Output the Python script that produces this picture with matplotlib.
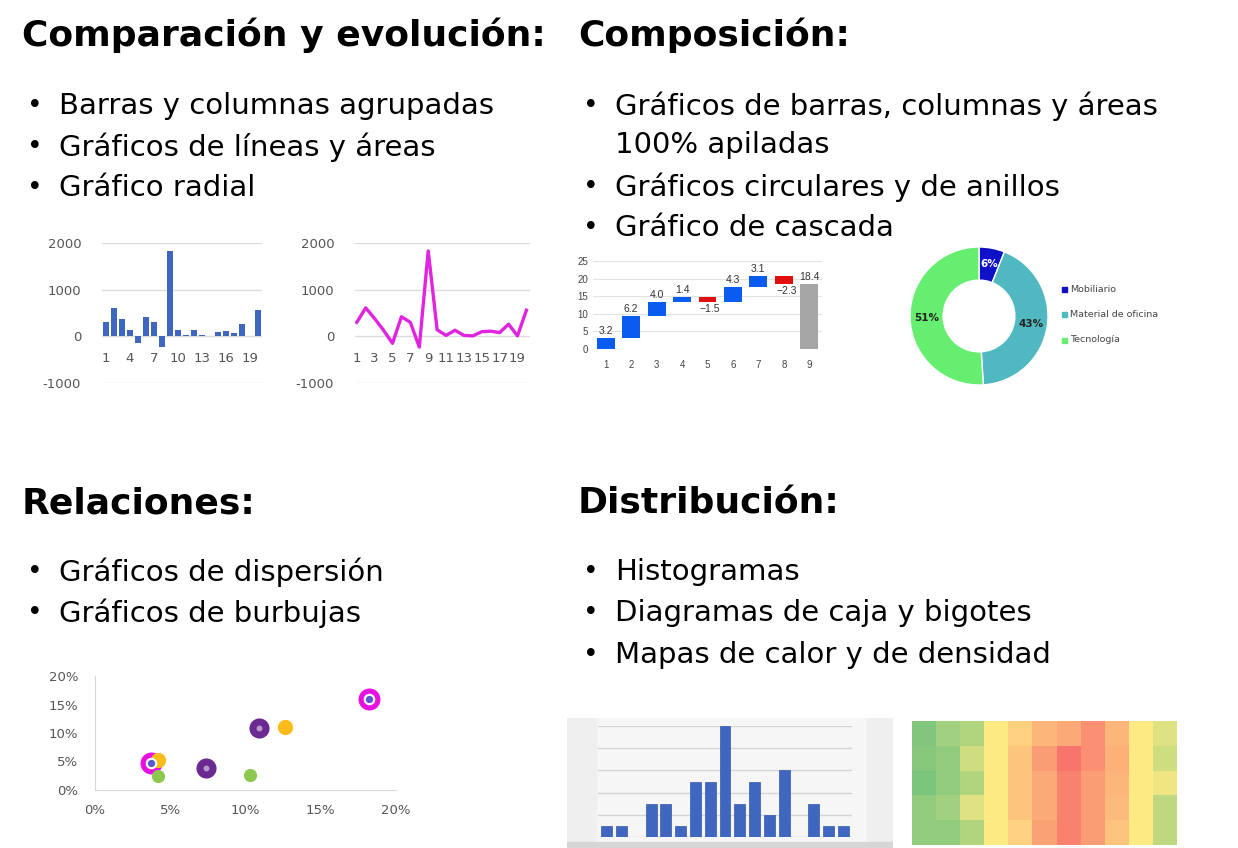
import matplotlib.pyplot as plt
import numpy as np
from matplotlib.colors import LinearSegmentedColormap

plt.rcParams["font.family"] = ["DejaVu Sans"]
plt.rcParams["axes.unicode_minus"] = False

# ---- data ----
months = list(range(1, 21))
sales = [300, 610, 380, 130, -150, 420, 300, -230, 1830, 140,
         20, 130, 20, 10, 100, 110, 80, 260, 10, 560]

wf_steps = [1, 2, 3, 4, 5, 6, 7, 8]
wf_deltas = [3.2, 6.2, 4.0, 1.4, -1.5, 4.3, 3.1, -2.3]
wf_total = 18.4

donut_labels = ["Mobiliario", "Material de oficina", "Tecnología"]
donut_values = [6, 43, 51]
donut_colors = ["#1010c8", "#4fb8c0", "#66ee70"]

bub_x = [3.7, 18.2, 7.4, 10.9, 4.2, 12.6, 4.2, 10.3]
bub_y = [4.7, 16.0, 3.9, 10.8, 5.3, 11.0, 2.5, 2.7]
bub_kind = ["m", "m", "p", "p", "o", "o", "g", "g"]

hist_counts = [1, 1, 0, 3, 3, 1, 5, 5, 10, 3, 5, 2, 6, 0, 3, 1, 1]

heat = [
    [0.10, 0.20, 0.25, 0.50, 0.60, 0.70, 0.75, 0.85, 0.70, 0.50, 0.40],
    [0.12, 0.15, 0.35, 0.50, 0.65, 0.80, 0.95, 0.85, 0.72, 0.50, 0.35],
    [0.08, 0.15, 0.25, 0.50, 0.65, 0.75, 0.90, 0.80, 0.70, 0.50, 0.45],
    [0.15, 0.20, 0.40, 0.50, 0.65, 0.75, 0.90, 0.80, 0.68, 0.50, 0.30],
    [0.15, 0.15, 0.25, 0.50, 0.60, 0.78, 0.90, 0.80, 0.65, 0.50, 0.30],
]

W, H = 1238, 848
fig = plt.figure(figsize=(W / 100, H / 100), dpi=100)


def ax_px(l, t, r, b):
    return fig.add_axes([l / W, 1 - b / H, (r - l) / W, (b - t) / H])


def txt(x, y, s, **kw):
    fig.text(x / W, 1 - y / H, s, va="center", **kw)


# ---- headings and bullets ----
hs = 26
bs = 21
txt(22, 35, "Comparación y evolución:", fontsize=hs, fontweight="bold")
txt(578, 35, "Composición:", fontsize=hs, fontweight="bold")
txt(22, 503, "Relaciones:", fontsize=hs, fontweight="bold")
txt(578, 503, "Distribución:", fontsize=hs, fontweight="bold")

bullets = [
    (24, 106, "Barras y columnas agrupadas"),
    (24, 147, "Gráficos de líneas y áreas"),
    (24, 188, "Gráfico radial"),
    (580, 106, "Gráficos de barras, columnas y áreas"),
    (580, 187, "Gráficos circulares y de anillos"),
    (580, 228, "Gráfico de cascada"),
    (24, 572, "Gráficos de dispersión"),
    (24, 613, "Gráficos de burbujas"),
    (580, 572, "Histogramas"),
    (580, 613, "Diagramas de caja y bigotes"),
    (580, 655, "Mapas de calor y de densidad"),
]
for x, y, s in bullets:
    txt(x + 3, y, "•", fontsize=bs - 2)
    txt(x + 35, y, s, fontsize=bs)
txt(615, 145, "100% apiladas", fontsize=bs)


# ---- column and line charts ----
def small_axes(ax):
    ax.set_ylim(-1000, 2000)
    ax.set_yticks([-1000, 0, 1000, 2000])
    ax.grid(axis="y", color="#dcdcdc", lw=1)
    ax.set_axisbelow(True)
    for s in ["left", "right", "top"]:
        ax.spines[s].set_visible(False)
    ax.spines["bottom"].set_position(("data", 0))
    ax.spines["bottom"].set_visible(False)
    ax.tick_params(length=0, labelsize=9.5, colors="#555555")
    ax.tick_params(axis="y", pad=15)
    ax.tick_params(axis="x", pad=11)


ax1 = ax_px(102, 243, 262, 383)
ax1.bar(months, sales, width=0.8, color="#3f67bf")
ax1.set_xlim(0.5, 20.5)
ax1.set_xticks(range(1, 21, 3))
small_axes(ax1)

ax2 = ax_px(355, 243, 530, 383)
ax2.plot(months, sales, color="#e024e0", lw=2.4)
ax2.set_xlim(0.8, 20.4)
ax2.set_xticks(range(1, 21, 2))
small_axes(ax2)

# ---- waterfall ----
ax3 = ax_px(593, 261, 822, 349)
cum = np.cumsum([0] + wf_deltas)
bottoms = [min(cum[i], cum[i + 1]) for i in range(len(wf_deltas))]
colors = ["#0a5cf0" if d > 0 else "#e01010" for d in wf_deltas]
ax3.bar(wf_steps, [abs(d) for d in wf_deltas], bottom=bottoms,
        width=0.7, color=colors)
ax3.bar([9], [wf_total], width=0.7, color="#a6a6a6")
lab_font = dict(fontsize=7.5, color="#333333",
                family=["Liberation Sans", "DejaVu Sans"])
for i, d in enumerate(wf_deltas):
    if d > 0:
        ax3.text(wf_steps[i], cum[i + 1] + 0.5, f"{d:.1f}", ha="center",
                 va="bottom", **lab_font)
    else:
        ax3.text(wf_steps[i] + 0.1, cum[i + 1] - 0.5, f"\u2212{abs(d):.1f}",
                 ha="center", va="top", **lab_font)
ax3.text(9, wf_total + 0.5, f"{wf_total}", ha="center", va="bottom",
         **lab_font)
ax3.set_xlim(0.5, 9.5)
ax3.set_ylim(0, 25)
ax3.set_yticks(range(0, 26, 5))
ax3.set_xticks(range(1, 10))
ax3.grid(axis="y", color="#e2e2e2", lw=0.8)
ax3.set_axisbelow(True)
for s in ax3.spines.values():
    s.set_visible(False)
ax3.tick_params(length=0, labelsize=7, colors="#444444")
ax3.tick_params(axis="x", pad=8)
for lab in ax3.get_xticklabels() + ax3.get_yticklabels():
    lab.set_family(["Liberation Sans", "DejaVu Sans"])

# ---- donut ----
ax4 = ax_px(910, 247, 1048, 385)
wedges, _ = ax4.pie(donut_values, colors=donut_colors, startangle=90,
                    counterclock=False, radius=1.0,
                    wedgeprops=dict(width=0.48, edgecolor="white", lw=1))
ax4.set_xlim(-1, 1)
ax4.set_ylim(-1, 1)
ax4.set_aspect("equal")
label_colors = ["white", "#222222", "#222222"]
for w, v, c in zip(wedges, donut_values, label_colors):
    ang = np.deg2rad((w.theta1 + w.theta2) / 2)
    r = 0.76
    ax4.text(r * np.cos(ang), r * np.sin(ang), f"{v}%", ha="center",
             va="center", fontsize=7.5, fontweight="bold", color=c)
for i, (lab, c) in enumerate(zip(donut_labels, donut_colors)):
    y = 289 + i * 25.5
    fig.patches.append(plt.Rectangle(((1064 - 2.5) / W, 1 - (y + 2.5) / H),
                                     5 / W, 5 / H, color=c,
                                     transform=fig.transFigure))
    txt(1070, y, lab, fontsize=6.8, color="#444444")

# ---- bubbles ----
ax5 = ax_px(95, 676, 396, 790)
size = {"m": 250, "p": 210, "o": 120, "g": 90}
col = {"m": "#e810e0", "p": "#6a2a92", "o": "#fbbb18", "g": "#8cc850"}
order = ["p", "m", "g", "o"]
for k in order:
    xs = [x for x, kk in zip(bub_x, bub_kind) if kk == k]
    ys = [y for y, kk in zip(bub_y, bub_kind) if kk == k]
    ax5.scatter(xs, ys, s=size[k], color=col[k], zorder=3, lw=0)
    if k == "m":
        ax5.scatter(xs, ys, s=70, color="white", zorder=4, lw=0)
        ax5.scatter(xs, ys, s=28, color="#5a5ad0", zorder=5, lw=0)
    if k == "p":
        ax5.scatter(xs, ys, s=18, color="#b79ac8", zorder=4, lw=0)
ax5.set_xlim(0, 20)
ax5.set_ylim(0, 20)
ax5.set_xticks(range(0, 21, 5))
ax5.set_yticks(range(0, 21, 5))
ax5.set_xticklabels([f"{v}%" for v in range(0, 21, 5)])
ax5.set_yticklabels([f"{v}%" for v in range(0, 21, 5)])
for s in ["top", "right"]:
    ax5.spines[s].set_visible(False)
for s in ["left", "bottom"]:
    ax5.spines[s].set_color("#d8d8d8")
ax5.tick_params(length=0, labelsize=9.5, colors="#555555")
ax5.tick_params(axis="x", pad=10)
ax5.tick_params(axis="y", pad=12)

# ---- histogram (screenshot-like panel) ----
bg = ax_px(567, 718, 893, 848)
bg.set_facecolor("#f6f6f6")
bg.set_xlim(0, 1)
bg.set_ylim(0, 1)
bg.axvspan(0, 0.09, color="#efefef")
bg.axvspan(0.92, 1, color="#efefef")
bg.axhspan(0, 0.05, color="#d6d6d6", zorder=3)
bg.set_xticks([])
bg.set_yticks([])
for s in bg.spines.values():
    s.set_visible(False)

ax6 = ax_px(598, 726, 852, 837)
ax6.patch.set_alpha(0)
ax6.bar(range(len(hist_counts)), hist_counts, width=0.74, color="#3f67bf",
        edgecolor="#3558a8", lw=0.5)
ax6.set_xlim(-0.6, len(hist_counts) - 0.4)
ax6.set_ylim(0, 10)
ax6.set_yticks(range(0, 11, 2))
ax6.grid(axis="y", color="#d4d4d4", lw=1)
ax6.set_axisbelow(True)
ax6.set_xticks([])
ax6.tick_params(length=0, labelleft=False)
for s in ax6.spines.values():
    s.set_visible(False)

# ---- heatmap ----
ax7 = ax_px(912, 721, 1177, 845)
cmap = LinearSegmentedColormap.from_list("excel", ["#63be7b", "#ffeb84", "#f8696b"])
ax7.imshow(heat, cmap=cmap, vmin=0, vmax=1, aspect="auto",
           interpolation="nearest")
ax7.set_xticks([])
ax7.set_yticks([])
for s in ax7.spines.values():
    s.set_visible(False)

fig.savefig("out.png", dpi=100)
